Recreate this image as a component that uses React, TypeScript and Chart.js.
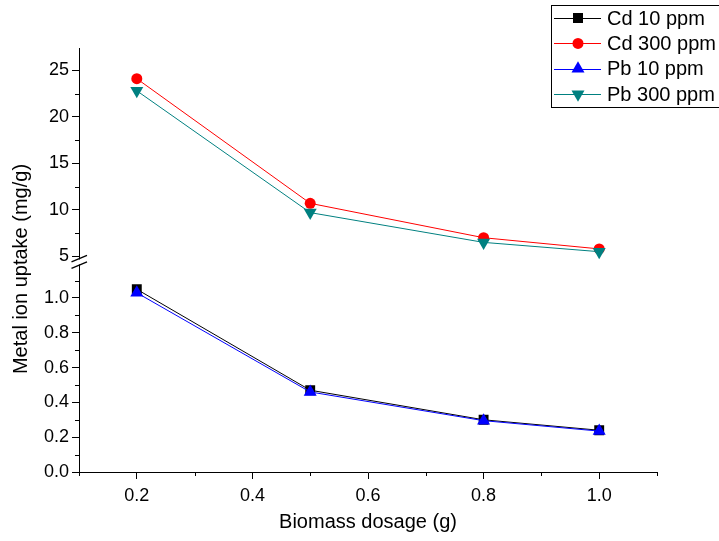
import React, { useEffect, useRef } from 'react';
import { Chart, registerables } from 'chart.js';

Chart.register(...registerables);

// ---- data ----
const dosages = [0.2, 0.5, 0.8, 1.0];
const cd10 = [1.05, 0.47, 0.3, 0.24];
const cd300 = [24.1, 10.7, 7.0, 5.8];
const pb10 = [1.03, 0.46, 0.295, 0.235];
const pb300 = [22.8, 9.7, 6.5, 5.5];
const seriesNames = ['Cd 10 ppm', 'Cd 300 ppm', 'Pb 10 ppm', 'Pb 300 ppm'];

const xTicks = [0.2, 0.4, 0.6, 0.8, 1.0];
const xMinorTicks = [0.1, 0.3, 0.5, 0.7, 0.9, 1.1];
const upperTicks = [5, 10, 15, 20, 25];
const upperMinorTicks = [7.5, 12.5, 17.5, 22.5];
const lowerTicks = [0, 0.2, 0.4, 0.6, 0.8, 1.0];
const lowerMinorTicks = [0.1, 0.3, 0.5, 0.7, 0.9, 1.1];

const xTitle = 'Biomass dosage (g)';
const yTitle = 'Metal ion uptake (mg/g)';

const FONT = '"Liberation Sans", Arial, sans-serif';
const TEAL = '#008080';

type Marker = 'rect' | 'circle' | 'triangle' | 'down';

function drawMarker(ctx: CanvasRenderingContext2D, m: Marker, x: number, y: number, color: string) {
  ctx.fillStyle = color;
  ctx.beginPath();
  if (m === 'rect') {
    ctx.rect(x - 5, y - 5, 10, 10);
  } else if (m === 'circle') {
    ctx.arc(x, y, 5.5, 0, Math.PI * 2);
  } else if (m === 'triangle') {
    ctx.moveTo(x, y - 7.5);
    ctx.lineTo(x + 6.5, y + 3.75);
    ctx.lineTo(x - 6.5, y + 3.75);
    ctx.closePath();
  } else {
    ctx.moveTo(x, y + 7.5);
    ctx.lineTo(x + 6.5, y - 3.75);
    ctx.lineTo(x - 6.5, y - 3.75);
    ctx.closePath();
  }
  ctx.fill();
}

const markers: Marker[] = ['rect', 'circle', 'triangle', 'down'];
const colors = ['#000000', '#FF0000', '#0000FF', TEAL];

const extrasPlugin = {
  id: 'extras',
  afterDraw(chart: any) {
    const ctx: CanvasRenderingContext2D = chart.ctx;
    const xs = chart.scales.x;
    const yu = chart.scales.yUpper;
    const yl = chart.scales.yLower;
    ctx.save();
    ctx.strokeStyle = '#000';
    ctx.lineWidth = 1;
    // minor ticks
    ctx.beginPath();
    xMinorTicks.forEach((v) => {
      const px = Math.round(xs.getPixelForValue(v)) + 0.5;
      ctx.moveTo(px, xs.top);
      ctx.lineTo(px, xs.top + 4);
    });
    upperMinorTicks.forEach((v) => {
      const py = Math.round(yu.getPixelForValue(v)) + 0.5;
      ctx.moveTo(yu.right - 4, py);
      ctx.lineTo(yu.right, py);
    });
    lowerMinorTicks.forEach((v) => {
      const py = Math.round(yl.getPixelForValue(v)) + 0.5;
      ctx.moveTo(yl.right - 4, py);
      ctx.lineTo(yl.right, py);
    });
    ctx.stroke();

    // axis break marks
    const bx = yl.right;
    const by = yl.top;
    ctx.strokeStyle = '#fff';
    ctx.lineWidth = 3;
    ctx.beginPath();
    ctx.moveTo(bx, by - 2);
    ctx.lineTo(bx, by + 3);
    ctx.stroke();
    ctx.strokeStyle = '#000';
    ctx.lineWidth = 1.3;
    ctx.beginPath();
    ctx.moveTo(bx - 7.5, by + 0.5);
    ctx.lineTo(bx + 8, by - 6);
    ctx.moveTo(bx - 7.5, by + 7);
    ctx.lineTo(bx + 8, by + 0.5);
    ctx.stroke();

    // y title
    ctx.fillStyle = '#000';
    ctx.font = `20px ${FONT}`;
    ctx.textAlign = 'center';
    ctx.textBaseline = 'middle';
    ctx.translate(21, 269);
    ctx.rotate(-Math.PI / 2);
    ctx.fillText(yTitle, 0, 0);
    ctx.restore();

    // legend
    ctx.save();
    const lx = 551;
    const ly = 5;
    ctx.fillStyle = '#fff';
    ctx.fillRect(lx, ly, 180, 102);
    ctx.strokeStyle = '#000';
    ctx.lineWidth = 1;
    ctx.strokeRect(lx + 0.5, ly + 0.5, 180, 102);
    ctx.font = `20px ${FONT}`;
    ctx.textAlign = 'left';
    ctx.textBaseline = 'middle';
    seriesNames.forEach((name, i) => {
      const cy = 18 + i * 25.4;
      ctx.strokeStyle = colors[i];
      ctx.lineWidth = 1;
      ctx.beginPath();
      ctx.moveTo(554, Math.round(cy) + 0.5);
      ctx.lineTo(601, Math.round(cy) + 0.5);
      ctx.stroke();
      drawMarker(ctx, markers[i], 578, cy, colors[i]);
      ctx.fillStyle = '#000';
      ctx.fillText(name, 607, cy + 1);
    });
    ctx.restore();
  },
};

function toPoints(ys: number[]) {
  return dosages.map((x, i) => ({ x, y: ys[i] }));
}

export default function App() {
  const ref = useRef<HTMLCanvasElement>(null);
  useEffect(() => {
    if (!ref.current) return;
    const tickFont = { family: FONT, size: 18 };
    const yCommon = (ticks: number[], digits: number) => ({
      type: 'linear' as const,
      position: 'left' as const,
      stack: 'y',
      offset: false,
      border: { display: true, color: '#000', width: 1 },
      grid: { display: true, drawOnChartArea: false, drawTicks: true, tickLength: 7, color: '#000', lineWidth: 1 },
      ticks: {
        color: '#000',
        font: tickFont,
        padding: 3,
        autoSkip: false,
        callback: (v: any) => Number(v).toFixed(digits),
      },
      afterBuildTicks: (s: any) => {
        s.ticks = ticks.map((v) => ({ value: v }));
      },
      afterFit: (s: any) => {
        s.width = 79;
      },
    });
    const chart = new Chart(ref.current, {
      type: 'line',
      data: {
        datasets: [
          { label: seriesNames[0], data: toPoints(cd10), yAxisID: 'yLower', borderColor: colors[0], backgroundColor: colors[0], pointStyle: 'rect', pointRadius: 7, borderWidth: 1, pointBorderWidth: 0, order: 4 },
          { label: seriesNames[1], data: toPoints(cd300), yAxisID: 'yUpper', borderColor: colors[1], backgroundColor: colors[1], pointStyle: 'circle', pointRadius: 5.5, borderWidth: 1, pointBorderWidth: 0, order: 3 },
          { label: seriesNames[2], data: toPoints(pb10), yAxisID: 'yLower', borderColor: colors[2], backgroundColor: colors[2], pointStyle: 'triangle', pointRadius: 7.5, borderWidth: 1, pointBorderWidth: 0, order: 2 },
          { label: seriesNames[3], data: toPoints(pb300), yAxisID: 'yUpper', borderColor: colors[3], backgroundColor: colors[3], pointStyle: 'triangle', pointRotation: 180, pointRadius: 7.5, borderWidth: 1, pointBorderWidth: 0, order: 1 },
        ],
      },
      options: {
        responsive: false,
        animation: false,
        layout: { padding: { left: 0, top: 48, right: 62, bottom: 0 } },
        plugins: { legend: { display: false }, tooltip: { enabled: false } },
        elements: { line: { tension: 0 } },
        scales: {
          x: {
            type: 'linear',
            min: 0.1,
            max: 1.1,
            border: { display: true, color: '#000', width: 1 },
            grid: { display: true, drawOnChartArea: false, drawTicks: true, tickLength: 7, color: '#000', lineWidth: 1 },
            ticks: { color: '#000', font: tickFont, padding: 6, autoSkip: false, maxRotation: 0, callback: (v: any) => Number(v).toFixed(1) },
            afterBuildTicks: (s: any) => {
              s.ticks = xTicks.map((v) => ({ value: v }));
            },
            afterFit: (s: any) => {
              s.height = 69;
            },
            title: { display: true, text: xTitle, color: '#000', font: { family: FONT, size: 20 }, padding: { top: 4, bottom: 7 } },
          },
          yUpper: { ...yCommon(upperTicks, 0), min: 4.45, max: 27.4, stackWeight: 213.4, weight: 2 },
          yLower: { ...yCommon(lowerTicks, 1), min: 0, max: 1.21, stackWeight: 210.5, weight: 1 },
        } as any,
      },
      plugins: [extrasPlugin],
    } as any);
    return () => chart.destroy();
  }, []);
  return (
    <div style={{ position: 'fixed', left: 0, top: 0, width: 719, height: 541, background: '#fff' }}>
      <canvas ref={ref} width={719} height={541} style={{ width: 719, height: 541, display: 'block' }} />
    </div>
  );
}
